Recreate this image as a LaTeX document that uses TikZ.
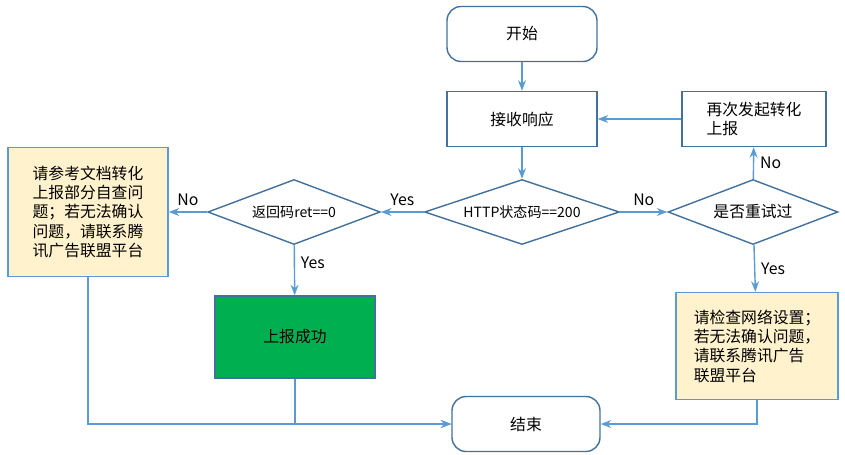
\documentclass[tikz,border=0pt]{standalone}
\usepackage{fontspec}
\setmainfont{Noto Sans CJK SC}
\usetikzlibrary{shapes.geometric,arrows.meta}
\definecolor{lineblue}{RGB}{91,155,213}
\definecolor{boxedge}{RGB}{65,113,156}
\definecolor{noteyellow}{RGB}{255,242,204}
\definecolor{okgreen}{RGB}{0,176,80}
\tikzset{
  box/.style={draw=boxedge, thick, minimum width=3.0cm, minimum height=1.1cm, font=\small},
  rbox/.style={box, rounded corners=8pt},
  decide/.style={diamond, draw=boxedge, thick, aspect=3, inner sep=1pt, font=\small},
  note/.style={draw=lineblue, thick, fill=noteyellow, align=left, font=\small, inner sep=3pt},
  flow/.style={draw=lineblue, thick, -{Stealth[length=6pt]}},
  tag/.style={font=\small}
}
\begin{document}
\begin{tikzpicture}[x=0.02cm, y=-0.02cm]
\useasboundingbox (0,0) rectangle (845,454);
% main column
\node[rbox] (start) at (522,34) {开始};
\node[box] (recv) at (522,119) {接收响应};
\node[decide, minimum width=3.9cm, minimum height=1.3cm] (http) at (522,212) {\footnotesize HTTP状态码==200};
\node[decide, minimum width=3.45cm, minimum height=1.3cm] (ret) at (294,212) {\footnotesize 返回码ret==0};
\node[decide, minimum width=3.4cm, minimum height=1.3cm] (retry) at (753,212) {是否重试过};
\node[box, minimum width=2.88cm, align=left] (again) at (754,119) {再次发起转化\\上报};
\node[note, minimum width=3.2cm, minimum height=2.58cm] (lnote) at (88,212) {请参考文档转化\\上报部分自查问\\题；若无法确认\\问题，请联系腾\\讯广告联盟平台};
\node[note, minimum width=3.24cm, minimum height=2.14cm] (rnote) at (757,346) {请检查网络设置；\\若无法确认问题，\\请联系腾讯广告\\联盟平台};
\node[box, fill=okgreen, minimum width=3.2cm, minimum height=1.64cm] (ok) at (295,337) {上报成功};
\node[rbox, minimum width=2.96cm] (stop) at (526,424) {结束};
% connectors
\draw[flow] (start) -- (recv);
\draw[flow] (recv) -- (http);
\draw[flow] (http) -- node[tag, above] {Yes} (ret);
\draw[flow] (http) -- node[tag, above] {No} (retry);
\draw[flow] (retry) -- node[tag, right] {No} (again);
\draw[flow] (again) -- (recv);
\draw[flow] (retry) -- node[tag, right] {Yes} (rnote);
\draw[flow] (ret) -- node[tag, above] {No} (lnote);
\draw[flow] (ret) -- node[tag, right, pos=0.35] {Yes} (ok);
\draw[flow] (lnote.south) |- (stop.west);
\draw[flow] (ok.south) |- (stop.west);
\draw[flow] (rnote.south) |- (stop.east);
\end{tikzpicture}
\end{document}
